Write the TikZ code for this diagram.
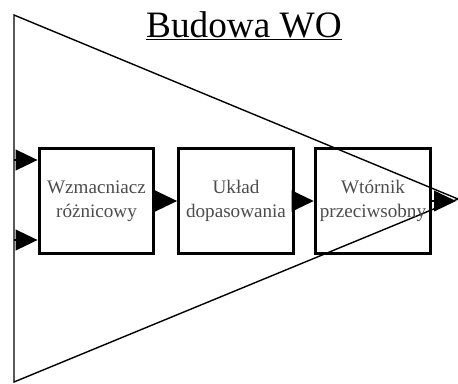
\documentclass[tikz,border=0pt]{standalone}
\usepackage{fontspec}
\setmainfont{Liberation Serif}
\usetikzlibrary{arrows.meta,positioning}

\tikzset{
    block/.style={draw,
        line width=2.1pt,
        minimum width=2.87cm,
        minimum height=2.62cm,
        align=center,
        text=black!70,
        font=\fontsize{13.6}{17}\selectfont},
    signal/.style={line width=1pt,
        -{Triangle[length=0.55cm,width=0.52cm]}}
}

\begin{document}
\begin{tikzpicture}[x=0.025cm,y=-0.025cm]
    % Frame
    \useasboundingbox (0,0) rectangle (458,383);

    % Amplifier outline
    \draw[line width=1pt] (14,15) -- (458,199) -- (14,382) -- cycle;

    % Title
    \node[anchor=base,
        font=\fontsize{26.5}{30}\selectfont] (title) at (244,37) {\underline{Budowa WO}};

    % Blocks
    \node[block] (diff) at (96.5,201) {Wzmacniacz\\różnicowy};
    \node[block] (match) at (236,201) {Układ\\dopasowania};
    \node[block] (push) at (373,201) {Wtórnik\\przeciwsobny};

    % Inputs and output
    \coordinate (inA) at (14,160);
    \coordinate (inB) at (14,240);
    \coordinate (out) at (456,201);

    % Signal path
    \draw[signal] (inA) -- (inA -| diff.west);
    \draw[signal] (inB) -- (inB -| diff.west);
    \draw[signal] (diff) -- (match);
    \draw[signal] (match) -- (push);
    \draw[signal] (push) -- (out);
\end{tikzpicture}
\end{document}
